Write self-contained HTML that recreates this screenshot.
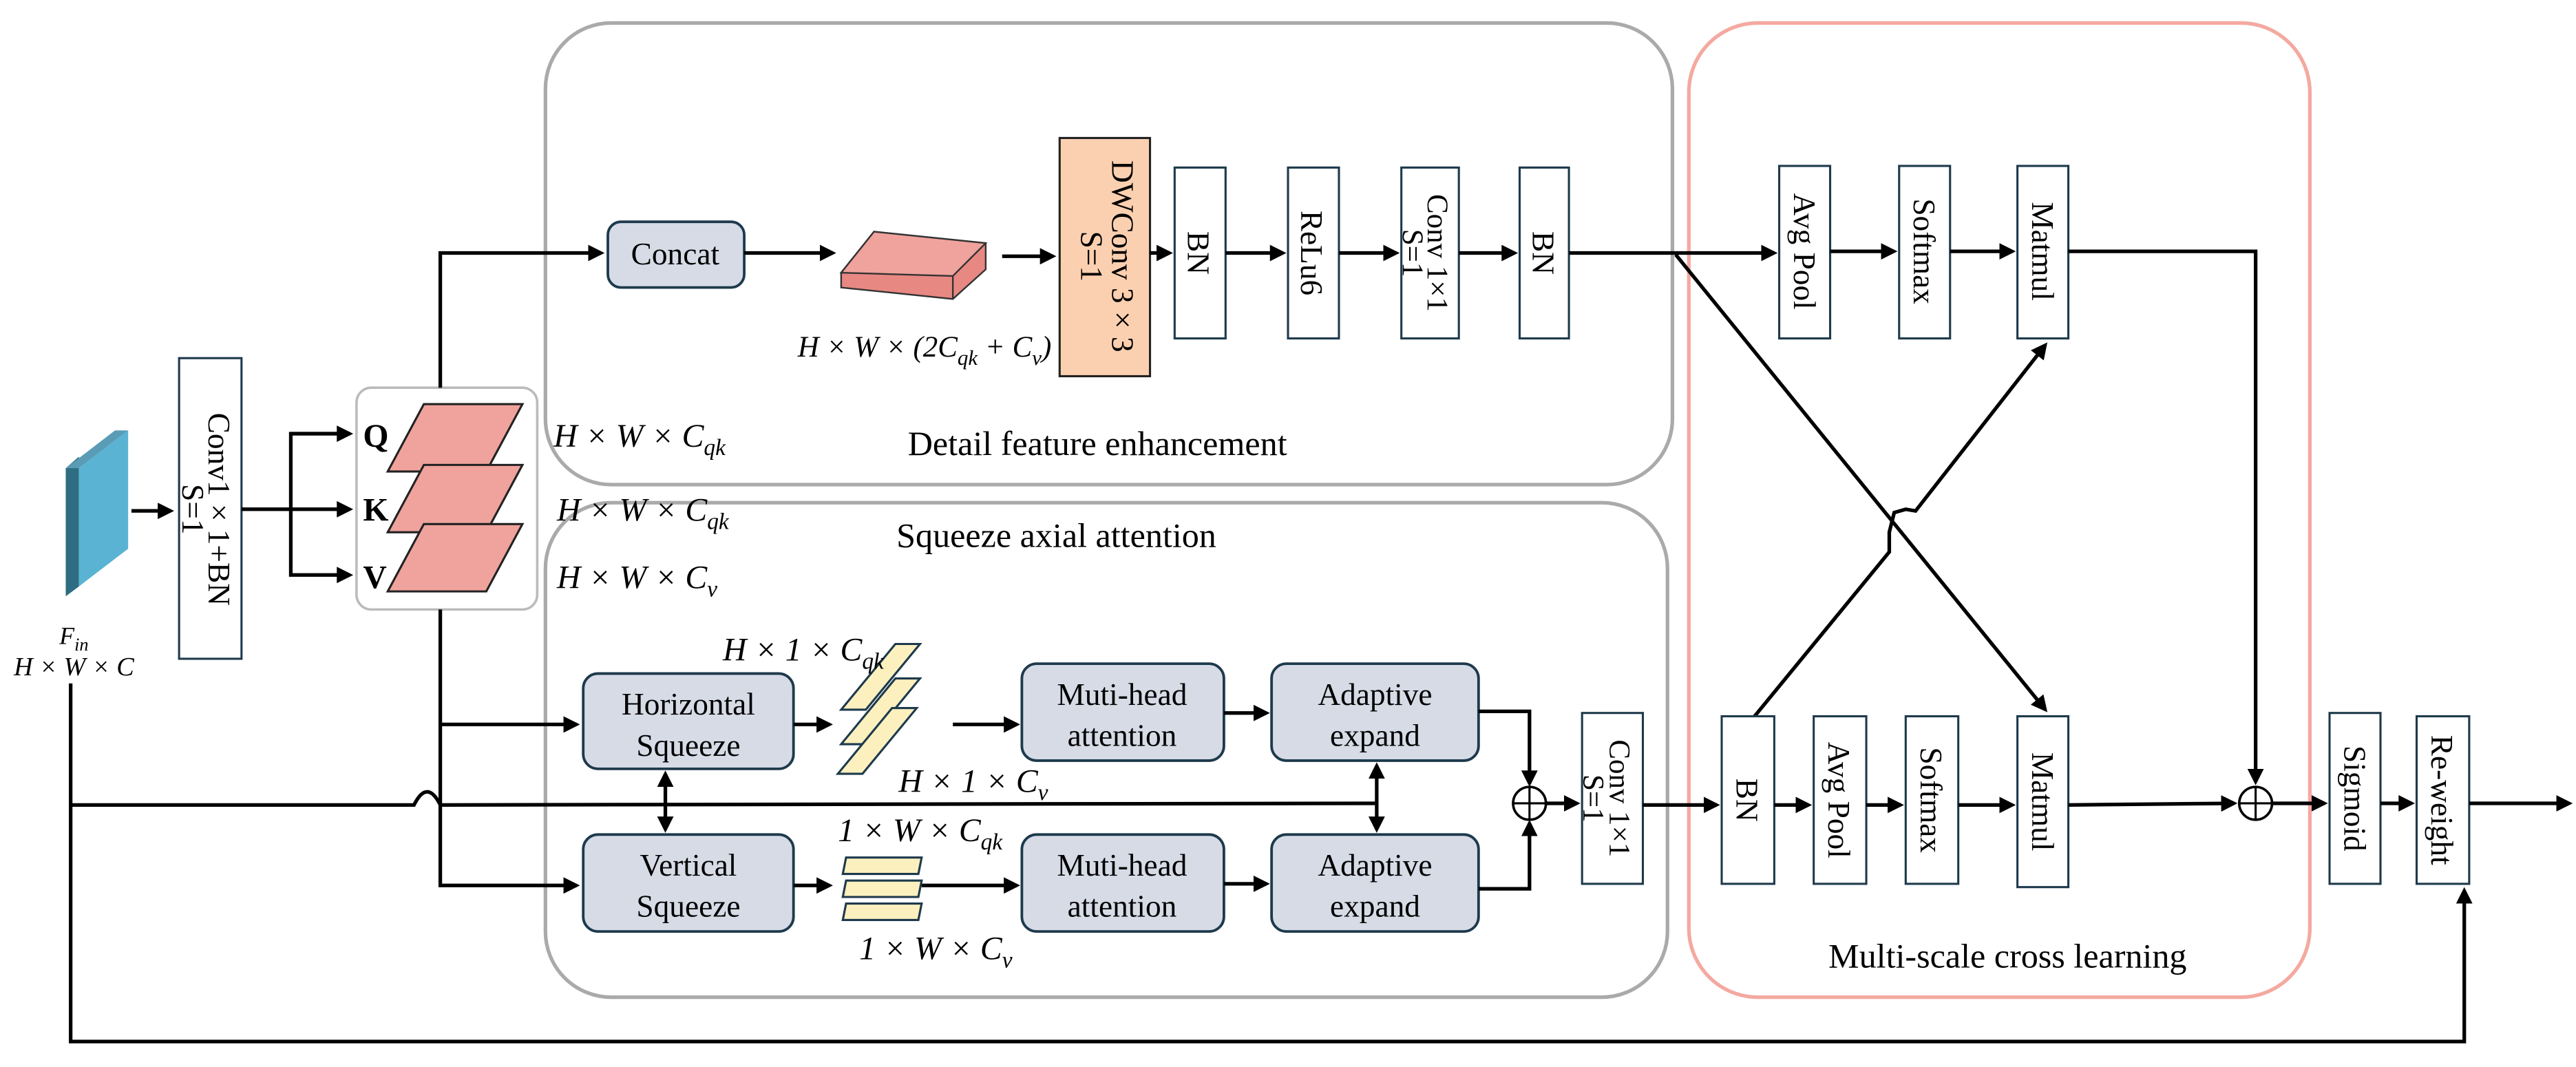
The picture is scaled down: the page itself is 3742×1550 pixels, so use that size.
<!DOCTYPE html>
<html><head><meta charset="utf-8"><style>
html,body{margin:0;padding:0;background:#fff}
svg{display:block}
svg text{font-family:"Liberation Serif","DejaVu Serif",serif;fill:#000}
.m{font-style:italic;font-size:20px}
.n{font-size:19px}
.ln{stroke:#000;stroke-width:2.2;fill:none}
.bx{fill:#fff;stroke:#1e3a4c;stroke-width:1.3}
.gb{fill:#d6dbe6;stroke:#1e3a4c;stroke-width:1.6}
</style></head><body>
<svg width="3742" height="1550" viewBox="0 0 1568 649.5" xmlns="http://www.w3.org/2000/svg" font-family="Liberation Serif, DejaVu Serif, serif">
<defs>
<marker id="a" markerWidth="10" markerHeight="10" refX="8" refY="5" orient="auto" markerUnits="userSpaceOnUse"><path d="M0,0 L10,5 L0,10 z" fill="#000"/></marker>
</defs>
<rect x="332" y="14" width="686" height="281" rx="40" fill="none" stroke="#aaa" stroke-width="2.2"/>
<rect x="332" y="306" width="683" height="301" rx="40" fill="none" stroke="#aaa" stroke-width="2.2"/>
<rect x="1028" y="14" width="378" height="593" rx="42" fill="none" stroke="#f4a9a0" stroke-width="2.2"/>
<text x="668" y="277" text-anchor="middle" style="font-size:21px">Detail feature enhancement</text>
<text x="643" y="333" text-anchor="middle" style="font-size:21px">Squeeze axial attention</text>
<text x="1222" y="589" text-anchor="middle" style="font-size:21px">Multi-scale cross learning</text>

<polygon points="40,285 48,278 48,357 40,363" fill="#2e6d82"/>
<polygon points="40,285 70,262 78,262 48,285" fill="#5a9cb5"/>
<polygon points="48,285 78,262 78,334 48,357" fill="#5bb3d3"/>
<text x="45" y="392" class="m" text-anchor="middle" style="font-size:15px">F<tspan dy="4" style="font-size:11px">in</tspan></text>
<text x="45" y="411" class="m" text-anchor="middle" style="font-size:16px">H × W × C</text>
<line x1="80" y1="311" x2="104" y2="311" class="ln" marker-end="url(#a)"/>
<rect x="109" y="218" width="38" height="183" class="bx"/>
<text transform="translate(127,310) rotate(90)" text-anchor="middle" class="n">Conv1 × 1+BN</text>
<text transform="translate(111,310) rotate(90)" text-anchor="middle" class="n">S=1</text>
<line x1="147" y1="310" x2="177" y2="310" class="ln"/>
<polyline points="213,264 177,264 177,350 213,350" class="ln" marker-end="url(#a)"/>
<line x1="177" y1="264" x2="213" y2="264" class="ln" marker-end="url(#a)"/>
<line x1="177" y1="310" x2="213" y2="310" class="ln" marker-end="url(#a)"/>
<rect x="217" y="236" width="110" height="135" rx="9" fill="#fff" stroke="#bbb" stroke-width="1.5"/>
<polygon points="258,246 318,246 296,287 236,287" fill="#efa39c" stroke="#222" stroke-width="1.3"/>
<polygon points="258,283 318,283 296,324 236,324" fill="#efa39c" stroke="#222" stroke-width="1.3"/>
<polygon points="258,319 318,319 296,360 236,360" fill="#efa39c" stroke="#222" stroke-width="1.3"/>
<text x="221" y="272" style="font-size:20px;font-weight:bold">Q</text>
<text x="221" y="317" style="font-size:20px;font-weight:bold">K</text>
<text x="221" y="358" style="font-size:20px;font-weight:bold">V</text>
<text x="337" y="272" class="m">H × W × C<tspan dy="5" style="font-size:14px">qk</tspan></text>
<text x="339" y="317" class="m">H × W × C<tspan dy="5" style="font-size:14px">qk</tspan></text>
<text x="339" y="358" class="m">H × W × C<tspan dy="5" style="font-size:14px">v</tspan></text>
<polyline points="268,236 268,154 366,154" class="ln" marker-end="url(#a)"/>
<polyline points="268,371 268,539 351,539" class="ln" marker-end="url(#a)"/>
<line x1="268" y1="441" x2="351" y2="441" class="ln" marker-end="url(#a)"/>
<rect x="370" y="135" width="83" height="40" rx="8" class="gb"/>
<text x="411" y="161" text-anchor="middle" class="n">Concat</text>
<line x1="453" y1="154" x2="507" y2="154" class="ln" marker-end="url(#a)"/>
<polygon points="512,166 532,141 600,148 600,164 580,182 512,175" fill="#e88882" stroke="#333" stroke-width="1"/>
<polygon points="512,166 532,141 600,148 580,168" fill="#f0a29c" stroke="#333" stroke-width="1"/>
<line x1="580" y1="168" x2="580" y2="182" stroke="#333" stroke-width="1"/>
<line x1="610" y1="156" x2="641" y2="156" class="ln" marker-end="url(#a)"/>
<rect x="645" y="84" width="55" height="145" fill="#fbd0b0" stroke="#222" stroke-width="1.3"/>
<text transform="translate(677,156) rotate(90)" text-anchor="middle" class="n">DWConv 3 × 3</text>
<text transform="translate(658,156) rotate(90)" text-anchor="middle" class="n">S=1</text>
<text x="640" y="217" text-anchor="end" class="m" style="font-size:18px">H × W × (2C<tspan dy="5" style="font-size:13px">qk</tspan><tspan dy="-5"> + C</tspan><tspan dy="5" style="font-size:13px">v</tspan><tspan dy="-5">)</tspan></text>
<line x1="700" y1="154" x2="712" y2="154" class="ln" marker-end="url(#a)"/>
<rect x="715" y="102" width="31" height="104" class="bx"/>
<text transform="translate(723,154) rotate(90)" text-anchor="middle" class="n">BN</text>
<line x1="746" y1="154" x2="781" y2="154" class="ln" marker-end="url(#a)"/>
<rect x="784" y="102" width="31" height="104" class="bx"/>
<text transform="translate(792,154) rotate(90)" text-anchor="middle" class="n">ReLu6</text>
<line x1="815" y1="154" x2="850" y2="154" class="ln" marker-end="url(#a)"/>
<rect x="853" y="102" width="35" height="104" class="bx"/>
<text transform="translate(869,154) rotate(90)" text-anchor="middle" style="font-size:18px">Conv 1×1</text>
<text transform="translate(854,154) rotate(90)" text-anchor="middle" style="font-size:18px">S=1</text>
<line x1="888" y1="154" x2="922" y2="154" class="ln" marker-end="url(#a)"/>
<rect x="925" y="102" width="30" height="104" class="bx"/>
<text transform="translate(933,154) rotate(90)" text-anchor="middle" class="n">BN</text>
<line x1="955" y1="154" x2="1080" y2="154" class="ln" marker-end="url(#a)"/>
<rect x="1083" y="101" width="31" height="105" class="bx"/>
<text transform="translate(1092,153) rotate(90)" text-anchor="middle" class="n">Avg Pool</text>
<line x1="1114" y1="153" x2="1153" y2="153" class="ln" marker-end="url(#a)"/>
<rect x="1156" y="101" width="31" height="105" class="bx"/>
<text transform="translate(1165,153) rotate(90)" text-anchor="middle" class="n">Softmax</text>
<line x1="1187" y1="153" x2="1225" y2="153" class="ln" marker-end="url(#a)"/>
<rect x="1228" y="101" width="31" height="105" class="bx"/>
<text transform="translate(1237,153) rotate(90)" text-anchor="middle" class="n">Matmul</text>
<polyline points="1259,153 1373,153 1373,476" class="ln" marker-end="url(#a)"/>
<line x1="1020" y1="155" x2="1245" y2="432" class="ln" marker-end="url(#a)"/>
<polyline points="1068,436 1150,336 1150,324 1153,312 1160,310 1166,311 1245,210" class="ln" marker-end="url(#a)"/>
<rect x="963" y="434" width="37" height="104" class="bx"/>
<text transform="translate(980,486) rotate(90)" text-anchor="middle" style="font-size:18px">Conv 1×1</text>
<text transform="translate(964,486) rotate(90)" text-anchor="middle" style="font-size:18px">S=1</text>
<line x1="1000" y1="490" x2="1045" y2="490" class="ln" marker-end="url(#a)"/>
<rect x="1048" y="436" width="32" height="102" class="bx"/>
<text transform="translate(1057,487) rotate(90)" text-anchor="middle" class="n">BN</text>
<line x1="1080" y1="490" x2="1101" y2="490" class="ln" marker-end="url(#a)"/>
<rect x="1104" y="436" width="32" height="102" class="bx"/>
<text transform="translate(1113,487) rotate(90)" text-anchor="middle" class="n">Avg Pool</text>
<line x1="1136" y1="490" x2="1157" y2="490" class="ln" marker-end="url(#a)"/>
<rect x="1160" y="436" width="32" height="102" class="bx"/>
<text transform="translate(1169,487) rotate(90)" text-anchor="middle" class="n">Softmax</text>
<line x1="1192" y1="490" x2="1225" y2="490" class="ln" marker-end="url(#a)"/>
<rect x="1228" y="436" width="31" height="104" class="bx"/>
<text transform="translate(1237,488) rotate(90)" text-anchor="middle" class="n">Matmul</text>
<line x1="1259" y1="490" x2="1360" y2="489" class="ln" marker-end="url(#a)"/>
<circle cx="1373" cy="489" r="10" fill="#fff" stroke="#000" stroke-width="1.5"/>
<line x1="1363" y1="489" x2="1383" y2="489" stroke="#000" stroke-width="1.3"/>
<line x1="1373" y1="479" x2="1373" y2="499" stroke="#000" stroke-width="1.3"/>
<line x1="1383" y1="489" x2="1415" y2="489" class="ln" marker-end="url(#a)"/>
<rect x="1418" y="434" width="31" height="104" class="bx"/>
<text transform="translate(1427,486) rotate(90)" text-anchor="middle" class="n">Sigmoid</text>
<line x1="1449" y1="489" x2="1468" y2="489" class="ln" marker-end="url(#a)"/>
<rect x="1471" y="436" width="32" height="102" class="bx"/>
<text transform="translate(1480,487) rotate(90)" text-anchor="middle" class="n">Re-weight</text>
<line x1="1503" y1="489" x2="1564" y2="489" class="ln" marker-end="url(#a)"/>
<rect x="355" y="410" width="128" height="58" rx="9" class="gb"/>
<text x="419" y="435" text-anchor="middle" class="n">Horizontal</text>
<text x="419" y="460" text-anchor="middle" class="n">Squeeze</text>
<rect x="355" y="508" width="128" height="59" rx="9" class="gb"/>
<text x="419" y="533" text-anchor="middle" class="n">Vertical</text>
<text x="419" y="558" text-anchor="middle" class="n">Squeeze</text>
<line x1="483" y1="441" x2="505" y2="441" class="ln" marker-end="url(#a)"/>
<line x1="483" y1="539" x2="505" y2="539" class="ln" marker-end="url(#a)"/>
<polygon points="545,392 560,392 527,432 512,432" fill="#fdf0bf" stroke="#1e3a4c" stroke-width="1.3"/>
<polygon points="545,413 560,413 527,453 512,453" fill="#fdf0bf" stroke="#1e3a4c" stroke-width="1.3"/>
<polygon points="543,431 558,431 525,471 510,471" fill="#fdf0bf" stroke="#1e3a4c" stroke-width="1.3"/>
<polygon points="515,522 561,522 559,532 513,532" fill="#fdf0bf" stroke="#1e3a4c" stroke-width="1.3"/>
<polygon points="515,536 561,536 559,546 513,546" fill="#fdf0bf" stroke="#1e3a4c" stroke-width="1.3"/>
<polygon points="515,550 561,550 559,560 513,560" fill="#fdf0bf" stroke="#1e3a4c" stroke-width="1.3"/>
<text x="440" y="402" class="m">H × 1 × C<tspan dy="5" style="font-size:14px">qk</tspan></text>
<text x="547" y="482" class="m">H × 1 × C<tspan dy="5" style="font-size:14px">v</tspan></text>
<text x="510" y="512" class="m">1 × W × C<tspan dy="5" style="font-size:14px">qk</tspan></text>
<text x="523" y="584" class="m">1 × W × C<tspan dy="5" style="font-size:14px">v</tspan></text>
<line x1="580" y1="441" x2="619" y2="441" class="ln" marker-end="url(#a)"/>
<line x1="561" y1="539" x2="619" y2="539" class="ln" marker-end="url(#a)"/>
<rect x="622" y="404" width="123" height="59" rx="9" class="gb"/>
<text x="683" y="429" text-anchor="middle" class="n">Muti-head</text>
<text x="683" y="454" text-anchor="middle" class="n">attention</text>
<rect x="622" y="508" width="123" height="59" rx="9" class="gb"/>
<text x="683" y="533" text-anchor="middle" class="n">Muti-head</text>
<text x="683" y="558" text-anchor="middle" class="n">attention</text>
<line x1="745" y1="434" x2="771" y2="434" class="ln" marker-end="url(#a)"/>
<line x1="745" y1="538" x2="771" y2="538" class="ln" marker-end="url(#a)"/>
<rect x="774" y="404" width="126" height="59" rx="9" class="gb"/>
<text x="837" y="429" text-anchor="middle" class="n">Adaptive</text>
<text x="837" y="454" text-anchor="middle" class="n">expand</text>
<rect x="774" y="508" width="126" height="59" rx="9" class="gb"/>
<text x="837" y="533" text-anchor="middle" class="n">Adaptive</text>
<text x="837" y="558" text-anchor="middle" class="n">expand</text>
<polyline points="900,433 931,433 931,477" class="ln" marker-end="url(#a)"/>
<polyline points="900,541 931,541 931,501" class="ln" marker-end="url(#a)"/>
<circle cx="931" cy="489" r="10" fill="#fff" stroke="#000" stroke-width="1.5"/>
<line x1="921" y1="489" x2="941" y2="489" stroke="#000" stroke-width="1.3"/>
<line x1="931" y1="479" x2="931" y2="499" stroke="#000" stroke-width="1.3"/>
<line x1="941" y1="489" x2="960" y2="489" class="ln" marker-end="url(#a)"/>
<line x1="405" y1="478" x2="405" y2="471" class="ln" marker-end="url(#a)"/>
<line x1="405" y1="472" x2="405" y2="505" class="ln" marker-end="url(#a)"/>
<line x1="838" y1="474" x2="838" y2="466" class="ln" marker-end="url(#a)"/>
<line x1="838" y1="468" x2="838" y2="505" class="ln" marker-end="url(#a)"/>
<polyline points="43,416 43,634 1500,634 1500,542" class="ln" marker-end="url(#a)"/>
<path d="M43,490 L252,490 Q260,474 268,490 L838,489" class="ln"/>
</svg>
</body></html>
